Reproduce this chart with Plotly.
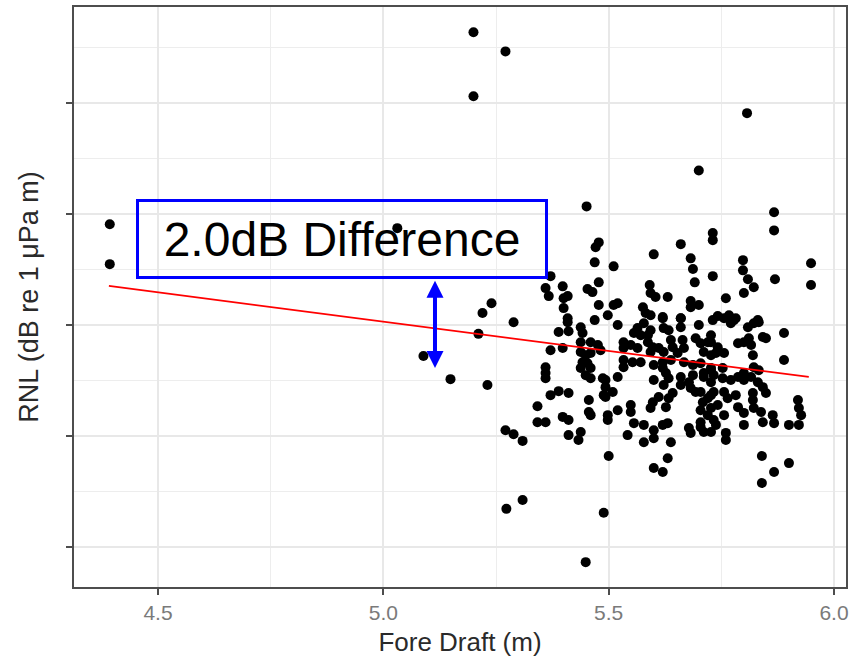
import plotly.graph_objects as go

# Fore draft (m) and RNL (dB re 1 uPa m)
draft = [
    4.393, 4.393, 5.200, 5.271, 5.200, 5.807, 5.700, 5.451, 5.031, 5.867, 5.867, 5.949, 5.949,
    5.089, 5.149, 5.231, 5.240, 5.220, 5.289, 5.211, 5.273, 5.309, 5.449, 5.271, 5.289, 5.309,
    5.489, 5.840, 5.867, 5.900, 5.840, 5.600, 5.620, 5.631, 5.500, 5.889, 5.889,
    5.478, 5.471, 5.469, 5.478, 5.453, 5.464, 5.371, 5.360, 5.367, 5.398, 5.409, 5.400, 5.400, 5.478,
    5.600, 5.660, 5.511, 5.682, 5.687, 5.691, 5.731, 5.731, 5.731, 5.591, 5.593, 5.604, 5.631, 5.682,
    5.682, 5.700, 5.511, 5.520, 5.498, 5.576, 5.582, 5.593, 5.620, 5.660,
    5.798, 5.798, 5.809, 5.822, 5.800, 5.760, 5.869, 5.742, 5.767, 5.782, 5.831,
    5.409, 5.409, 5.389, 5.411, 5.438, 5.442, 5.469, 5.371, 5.398, 5.438, 5.460, 5.476, 5.438, 5.449,
    5.460, 5.442, 5.453, 5.438, 5.460, 5.449, 5.460, 5.360, 5.360, 5.360, 5.487, 5.489, 5.371, 5.389,
    5.411, 5.342, 5.456, 5.456, 5.460, 5.342, 5.360, 5.398, 5.411, 5.411, 5.438, 5.433,
    5.520, 5.564, 5.578, 5.593, 5.587, 5.571, 5.556, 5.620, 5.622, 5.633, 5.660, 5.660, 5.700, 5.731,
    5.533, 5.549, 5.533, 5.564, 5.587, 5.598, 5.611, 5.593, 5.638, 5.642, 5.622, 5.664, 5.667, 5.653,
    5.693, 5.704, 5.720, 5.711, 5.727, 5.482,
    5.533, 5.533, 5.553, 5.571, 5.600, 5.620, 5.638, 5.620, 5.627, 5.667, 5.687, 5.704, 5.727, 5.711, 5.687,
    5.520, 5.493, 5.493, 5.509, 5.493, 5.600, 5.622, 5.633, 5.642, 5.611, 5.633, 5.660, 5.678, 5.660,
    5.682, 5.693, 5.711, 5.727, 5.704, 5.720, 5.733,
    5.598, 5.593, 5.627, 5.549, 5.549, 5.520, 5.498, 5.498, 5.709, 5.704, 5.720, 5.704, 5.727,
    5.556, 5.578, 5.600, 5.631, 5.620, 5.678, 5.682, 5.704, 5.711, 5.727, 5.542, 5.578, 5.600, 5.638,
    5.756, 5.778, 5.771, 5.809, 5.822, 5.833, 5.842, 5.849,
    5.727, 5.727, 5.742, 5.738, 5.756, 5.787, 5.800, 5.811, 5.816, 5.820, 5.822, 5.833,
    5.727, 5.733, 5.753, 5.753, 5.771, 5.787, 5.800, 5.800, 5.816, 5.831, 5.842, 5.849,
    5.727, 5.742, 5.756, 5.764, 5.782, 5.820, 5.820, 5.822, 5.787, 5.800, 5.800, 5.838, 5.842, 5.864,
    5.867, 5.900, 5.922, 5.920, 5.922, 5.927, 5.733, 5.756, 5.738, 5.760, 5.760,
]
rnl = [
    177.27, 176.37, 181.59, 181.16, 180.15, 179.77, 178.48, 177.67, 177.18, 177.54, 177.13, 176.39, 175.90,
    174.30, 173.78, 173.65, 175.49, 175.27, 175.06, 174.80, 170.86, 171.06, 169.66, 172.63, 172.54, 172.39,
    170.77, 171.44, 171.69, 171.89, 172.05, 171.78, 171.69, 172.00, 172.05, 174.21, 174.82,
    176.86, 176.75, 176.41, 175.96, 175.81, 175.74, 176.10, 175.83, 175.65, 175.87, 175.65, 175.60, 175.38, 175.45,
    176.59, 176.82, 176.32, 176.50, 176.26, 175.96, 177.07, 176.91, 176.10, 175.90, 175.72, 175.63, 175.63, 175.54,
    175.40, 175.45, 175.45, 175.49, 175.22, 175.40, 175.27, 175.22, 175.18, 175.15,
    176.46, 176.23, 176.03, 175.85, 175.72, 175.60, 176.03, 175.20, 175.22, 175.15, 175.11,
    175.15, 175.06, 174.84, 174.86, 174.95, 174.82, 175.11, 174.43, 174.48, 174.61, 174.61, 174.55, 174.39, 174.32,
    174.37, 174.16, 174.14, 174.03, 174.03, 173.87, 173.80, 174.05, 173.92, 173.80, 173.80, 173.42, 173.42, 173.51,
    173.47, 173.17, 173.31, 173.04, 172.97, 172.81, 172.81, 172.93, 172.86, 172.52, 172.59, 172.41,
    175.00, 174.93, 175.04, 174.88, 174.77, 174.77, 174.82, 175.15, 174.93, 174.88, 175.15, 174.95, 175.00, 175.11,
    174.61, 174.55, 174.48, 174.48, 174.61, 174.50, 174.48, 174.39, 174.66, 174.50, 174.39, 174.66, 174.48, 174.37,
    174.70, 174.59, 174.61, 174.39, 174.32, 174.43,
    174.21, 174.05, 174.16, 174.16, 174.10, 174.16, 174.21, 174.03, 173.92, 174.16, 174.10, 174.14, 174.03, 173.92, 173.87,
    173.83, 173.76, 173.60, 173.49, 173.38, 173.76, 173.65, 173.80, 173.47, 173.38, 173.35, 173.83, 173.71, 173.65,
    173.58, 173.49, 173.83, 173.71, 173.49, 173.35, 173.49,
    173.26, 173.13, 173.15, 173.20, 173.04, 173.08, 172.97, 172.86, 173.26, 173.08, 172.97, 172.81, 173.13,
    172.79, 172.75, 172.63, 172.79, 172.75, 172.68, 172.57, 172.70, 172.59, 172.59, 172.52, 172.36, 172.45, 172.36,
    175.15, 175.11, 175.04, 174.95, 175.04, 175.06, 174.73, 174.70,
    174.77, 174.61, 174.50, 174.37, 174.37, 174.59, 174.61, 174.70, 174.55, 174.32, 174.05, 173.98,
    173.98, 173.87, 174.03, 173.80, 173.76, 173.83, 173.92, 173.76, 173.83, 173.71, 173.60, 173.47,
    173.42, 173.20, 173.49, 173.35, 173.42, 173.47, 173.31, 173.13, 173.15, 173.02, 172.75, 173.04, 172.81, 172.97,
    172.79, 172.75, 172.75, 173.31, 173.13, 172.97, 172.86, 172.97, 172.75, 172.57, 172.41,
]

# linear fit line end points
fit_x = [4.391, 5.944]
fit_y = [175.88, 173.83]

# difference arrow (x, y bottom, y top)
diff_x = 5.1146
diff_y = [174.03, 176.03]

x_ticks = [4.5, 5.0, 5.5, 6.0]
x_ticklabels = ["4.5", "5.0", "5.5", "6.0"]
x_minor = [4.75, 5.25, 5.75]
y_ticks = [170.0, 172.5, 175.0, 177.5, 180.0]
y_minor = [171.25, 173.75, 176.25, 178.75, 181.25]

FONT = "Liberation Sans, Arial, sans-serif"

fig = go.Figure()
fig.add_trace(go.Scatter(
    x=draft, y=rnl, mode="markers",
    marker=dict(color="black", size=10, line=dict(width=0)),
    showlegend=False, hoverinfo="x+y",
))
fig.add_trace(go.Scatter(
    x=fit_x, y=fit_y, mode="lines",
    line=dict(color="#ff0000", width=1.7),
    showlegend=False,
))

# double-headed arrow
fig.add_annotation(
    x=diff_x, y=diff_y[0], ax=diff_x, ay=diff_y[1],
    xref="x", yref="y", axref="x", ayref="y",
    text="", showarrow=True,
    arrowhead=2, startarrowhead=2, arrowside="end+start",
    arrowsize=0.85, startarrowsize=0.85, arrowwidth=4,
    arrowcolor="#0000ff", standoff=0, startstandoff=0,
)

# boxed label
fig.add_annotation(
    x=4.908, y=176.94, xref="x", yref="y",
    text="2.0dB Difference", showarrow=False,
    font=dict(family=FONT, size=48, color="black"),
    bordercolor="#0000ff", borderwidth=3, borderpad=0,
    width=406, height=74, align="center", valign="middle",
)

axis_common = dict(
    showline=True, linecolor="#4d4d4d", linewidth=1.6, mirror=True,
    ticks="outside", ticklen=6, tickwidth=1.6, tickcolor="#4d4d4d",
    showgrid=True, gridcolor="#e8e8e8", gridwidth=1.6,
    zeroline=False,
)

fig.update_xaxes(
    range=[4.3136, 6.0266],
    tickmode="array", tickvals=x_ticks, ticktext=x_ticklabels,
    tickfont=dict(family=FONT, size=21, color="#7a7a7a"),
    minor=dict(tickmode="array", tickvals=x_minor, showgrid=True,
               gridcolor="#ededed", gridwidth=1.3, ticks=""),
    title=dict(text="Fore Draft (m)", font=dict(family=FONT, size=26, color="#2a2a2a"),
               standoff=10),
    **axis_common,
)
fig.update_yaxes(
    range=[169.10, 182.16],
    tickmode="array", tickvals=y_ticks, showticklabels=False,
    minor=dict(tickmode="array", tickvals=y_minor, showgrid=True,
               gridcolor="#ededed", gridwidth=1.3, ticks=""),
    title=dict(text="RNL (dB re 1 μPa m)", font=dict(family=FONT, size=27, color="#2a2a2a"),
               standoff=20),
    **axis_common,
)

fig.update_layout(
    width=868, height=660,
    margin=dict(l=74, r=22, t=7, b=73, autoexpand=False),
    plot_bgcolor="white", paper_bgcolor="white",
    font=dict(family=FONT),
    showlegend=False,
)

fig.write_html("out.html", config={"displayModeBar": False})
